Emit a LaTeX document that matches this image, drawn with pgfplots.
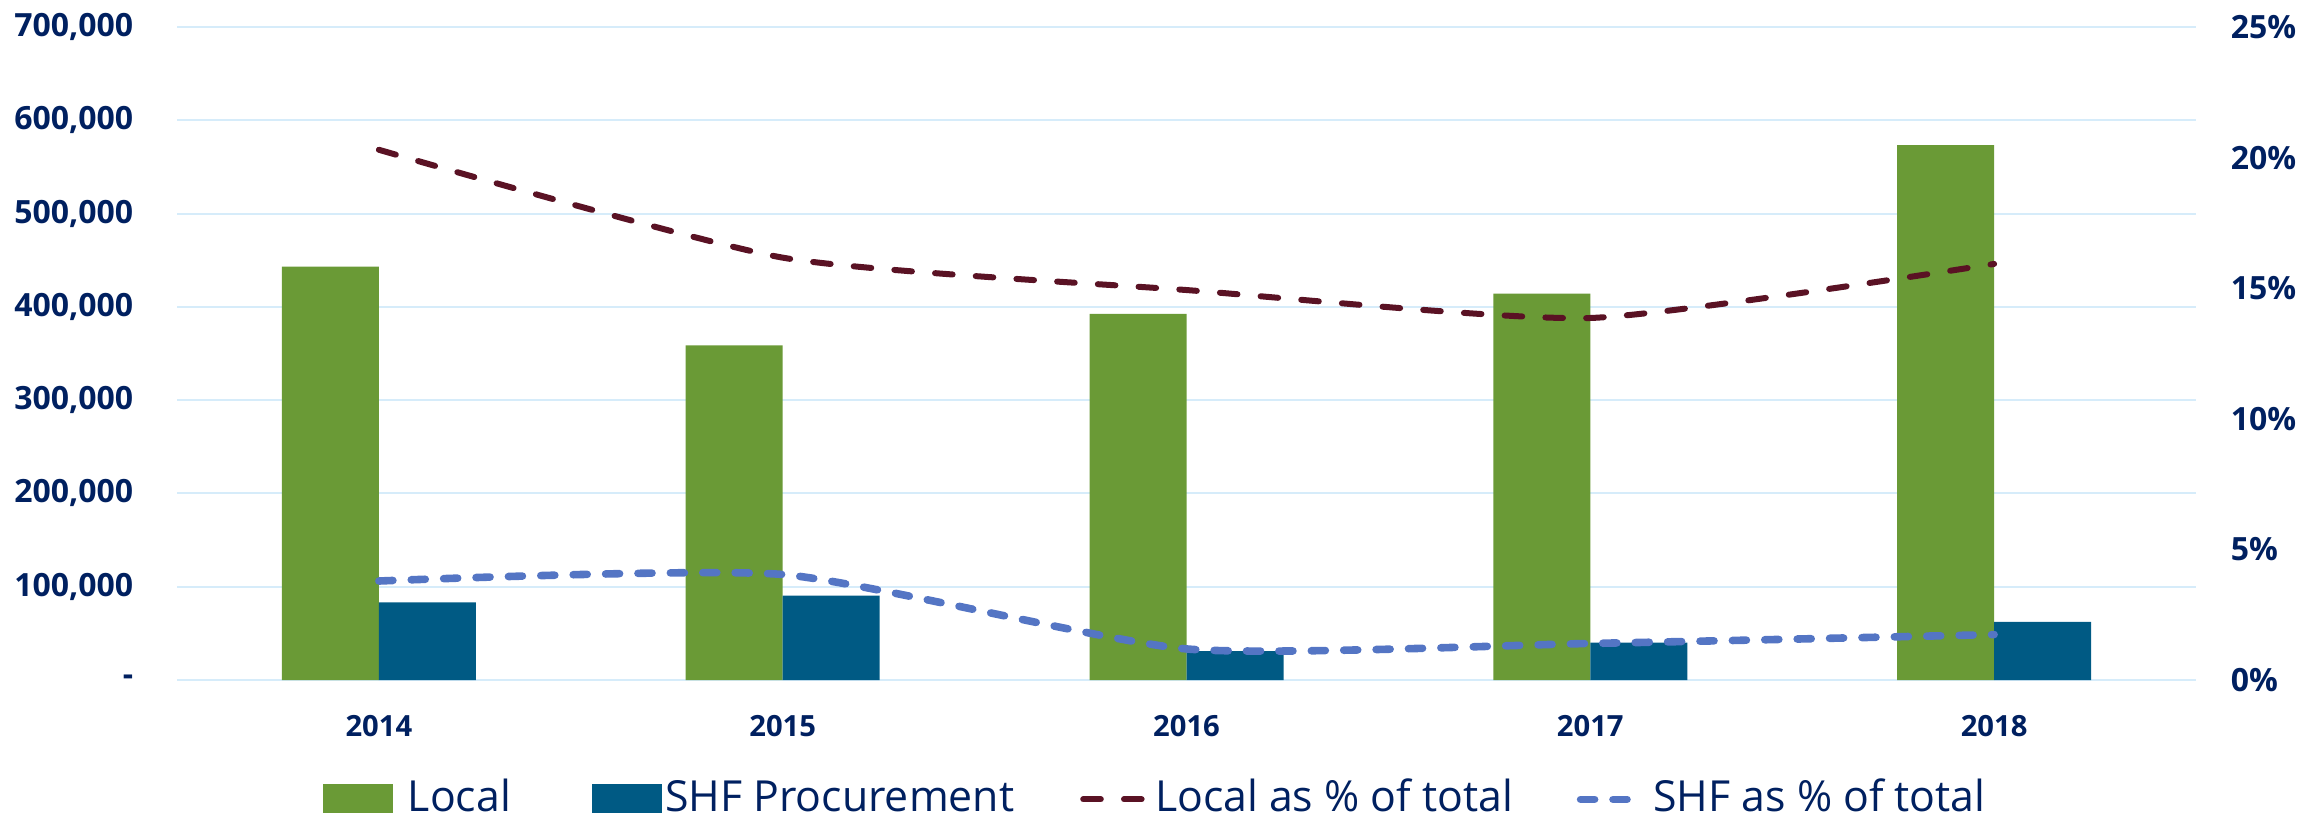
\documentclass[border=0pt]{standalone}
\usepackage{pgfplots}
\pgfplotsset{compat=1.18}
\usepackage{fontspec}
\setmainfont{Open Sans}
\definecolor{navy}{HTML}{002060}
\definecolor{lgreen}{HTML}{6A9A36}
\definecolor{sblue}{HTML}{005A84}
\definecolor{maroon}{HTML}{5A1224}
\definecolor{pblue}{HTML}{5475C4}
\definecolor{gridc}{HTML}{D6ECFA}

\pgfplotsset{
  greenleg/.style={legend image code/.code={\fill[lgreen] (0pt,-4.05pt) rectangle (17.25pt,2.7pt);}},
  blueleg/.style={legend image code/.code={\fill[sblue] (0pt,-4.05pt) rectangle (17.25pt,2.7pt);}},
  maroonleg/.style={legend image code/.code={\draw[##1] (0pt,-0.9pt) -- (15.1pt,-0.9pt);}},
  pblueleg/.style={legend image code/.code={\draw[##1] (0pt,-0.9pt) -- (15.85pt,-0.9pt);}},
}

\pgfplotstableread{
x local shf
0 443300 83100
1 358800 90500
2 392400 31100
3 414200 40000
4 573300 62200
}\bars
\pgfplotstableread{
x localpct shfpct
0 20.30 3.79
1 16.17 4.04
2 14.93 1.19
3 13.86 1.40
4 15.93 1.74
}\pcts

\begin{document}
\begin{tikzpicture}
\useasboundingbox (0,0) rectangle (575.5pt,204.5pt);
\pgfplotsset{
  base/.style={
    at={(44.25pt,34.5pt)}, anchor=south west,
    scale only axis, width=504.75pt, height=163.25pt,
    xmin=-0.5, xmax=4.5,
    axis line style={draw=none},
    major tick length=0pt,
    tick style={draw=none},
    clip=false,
  }
}
\begin{axis}[base,
  ybar=0pt, bar width=24.25pt,
  ymin=0, ymax=700000,
  xtick={0,1,2,3,4}, xticklabels={2014,2015,2016,2017,2018},
  ytick={0,100000,200000,300000,400000,500000,600000,700000},
  yticklabels={{-\hspace{4pt}},{100,000},{200,000},{300,000},{400,000},{500,000},{600,000},{700,000}},
  scaled y ticks=false,
  ymajorgrids, grid style={gridc, line width=0.5pt},
  xticklabel style={font=\fontsize{7.3}{9}\selectfont\bfseries, text=navy, inner sep=0pt, anchor=north, yshift=-8.7pt},
  yticklabel style={font=\fontsize{8}{9.6}\selectfont\bfseries, text=navy, inner sep=0pt, anchor=east, xshift=-10.75pt},
]
\addplot[fill=lgreen, draw=none] table[x=x, y=local] {\bars};
\addplot[fill=sblue, draw=none] table[x=x, y=shf] {\bars};
\end{axis}
\begin{axis}[base,
  ymin=0, ymax=25,
  xtick=\empty,
  ytick={0,5,10,15,20,25},
  yticklabels={0\%,5\%,10\%,15\%,20\%,25\%},
  yticklabel pos=right,
  yticklabel style={font=\fontsize{8}{9.6}\selectfont\bfseries, text=navy, inner sep=0pt, anchor=west, xshift=8.5pt},
  legend columns=4,
  legend cell align=left,
  legend style={at={(0.07182,-0.17825)}, anchor=west, draw=none, fill=none,
    font=\fontsize{10.7}{13}\selectfont, text=navy, inner sep=0pt,
    nodes={inner sep=0pt, text height=7.8pt, text depth=0pt},
    /tikz/column 1/.style={column sep=3.6pt},
    /tikz/column 2/.style={column sep=0pt},
    /tikz/column 3/.style={column sep=0.7pt},
    /tikz/column 4/.style={column sep=0pt},
    /tikz/column 5/.style={column sep=2.1pt},
    /tikz/column 6/.style={column sep=0pt},
    /tikz/column 7/.style={column sep=1.4pt},
  },
]
\addlegendimage{greenleg}
\addlegendentry{\makebox[46pt][l]{Local}}
\addlegendimage{blueleg}
\addlegendentry{\makebox[103.75pt][l]{SHF Procurement}}
\addplot[maroon, line width=1.5pt, line cap=round, dash pattern=on 4.4pt off 5.8pt, smooth, tension=0.35, maroonleg]
  table[x=x, y=localpct] {\pcts};
\addlegendentry{\makebox[105.45pt][l]{Local as \% of total}}
\addplot[pblue, line width=1.9pt, line cap=round, dash pattern=on 3.5pt off 4.6pt, smooth, tension=0.35, pblueleg]
  table[x=x, y=shfpct] {\pcts};
\addlegendentry{\makebox[78pt][l]{SHF as \% of total}}
\end{axis}
\end{tikzpicture}
\end{document}
